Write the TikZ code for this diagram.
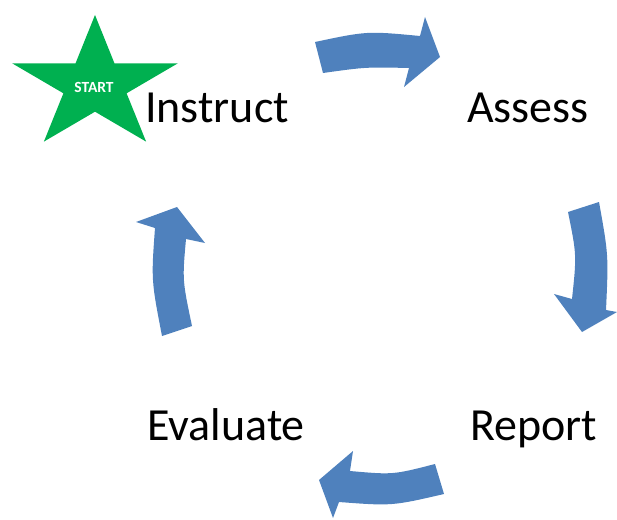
\documentclass[tikz,border=0pt]{standalone}
\usepackage{fontspec}
\setmainfont{Carlito}
\definecolor{arrowblue}{HTML}{4F81BD}
\definecolor{stargreen}{HTML}{00B050}
\tikzset{
  cyclearrow/.style={fill=arrowblue, draw=none},
  steplabel/.style={anchor=base west, inner sep=0pt, font=\fontsize{46}{54}\selectfont, text=black},
  startlabel/.style={anchor=base, inner sep=0pt, font=\bfseries\fontsize{15.5}{18}\selectfont, text=white}
}
\begin{document}
\begin{tikzpicture}[x=1pt,y=-1pt]
\useasboundingbox (0,0) rectangle (617,519);
% star
\fill[stargreen] (95,15) -- (114.5,63.4) -- (177.7,63.4) -- (126.6,93.3) -- (146.1,141.6)
  -- (95,111.7) -- (43.9,141.6) -- (63.4,93.3) -- (12.3,63.4) -- (75.5,63.4) -- cycle;
\node[startlabel] (start) at (94,92) {START};
% labels
\node[steplabel] (instruct) at (145,122) {Instruct};
\node[steplabel] (assess) at (467,122) {Assess};
\node[steplabel] (evaluate) at (147,440) {Evaluate};
\node[steplabel] (report) at (470,440) {Report};
% top arrow
\fill[cyclearrow] (315,42) .. controls (367,31) .. (420,36) -- (425,17) -- (440,57) -- (404,87)
  -- (409,68) .. controls (366,67) .. (323,73) -- cycle;
% right arrow
\fill[cyclearrow] (568,212) -- (599,202) .. controls (608.5,255) .. (606,310) -- (617,312) -- (582,332)
  -- (554,294) -- (572,299) .. controls (576.7,255) .. (568,212) -- cycle;
% bottom arrow
\fill[cyclearrow] (435,464) -- (444,494) .. controls (392,506) .. (339,502) -- (333,518) -- (319,480)
  -- (353,451) -- (350,471) .. controls (393,474.8) .. (435,464) -- cycle;
% left arrow
\fill[cyclearrow] (162,336) -- (192,326) .. controls (182.3,280) .. (186,239) -- (205,243) -- (177,207)
  -- (136,222) -- (155,228) .. controls (151.2,280) .. (162,336) -- cycle;
\end{tikzpicture}
\end{document}
